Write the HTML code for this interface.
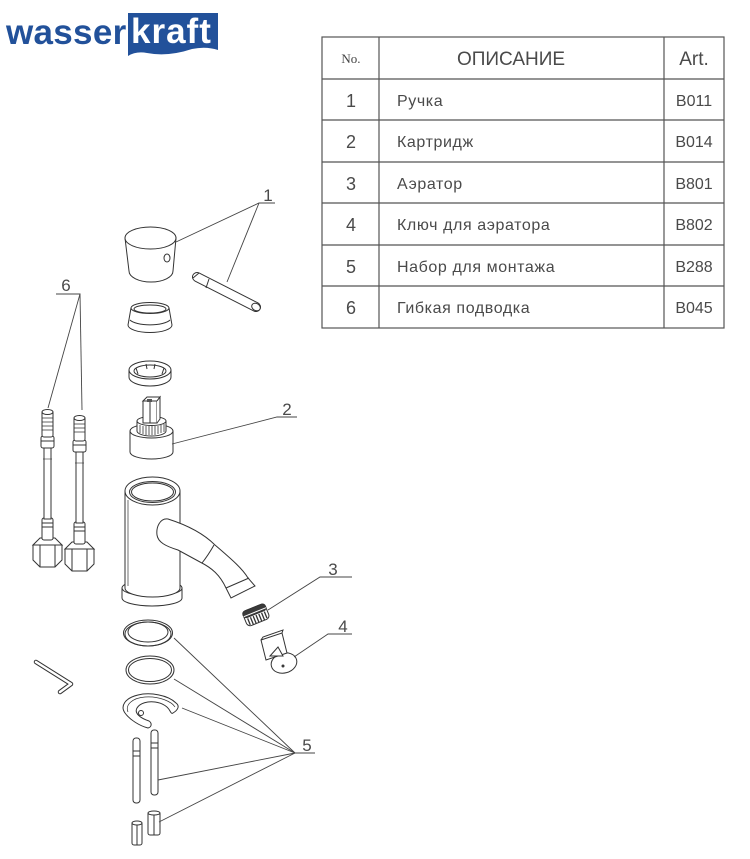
<!DOCTYPE html>
<html>
<head>
<meta charset="utf-8">
<style>
html,body{margin:0;padding:0;background:#fff;}
body{width:750px;height:859px;overflow:hidden;}
svg{display:block;}
.t{font-family:"Liberation Sans","DejaVu Sans",sans-serif;fill:#4a4a4a;}
</style>
</head>
<body>
<svg width="750" height="859" viewBox="0 0 750 859" xmlns="http://www.w3.org/2000/svg">
<!-- Logo -->
<text x="6" y="44" font-family="Liberation Sans, sans-serif" font-weight="bold" font-size="35" fill="#22519a" letter-spacing="0.3">wasser</text>
<path d="M128 13 H218 V50 Q206 46 192 49 Q168 57 147 53 Q136 51 128 56 Z" fill="#22519a"/>
<text x="131" y="43" font-family="Liberation Sans, sans-serif" font-weight="bold" font-size="35" fill="#fff" letter-spacing="1">kraft</text>

<!-- Table -->
<g stroke="#555" stroke-width="1.2" fill="none">
<rect x="322" y="37" width="402" height="291"/>
<line x1="379" y1="37" x2="379" y2="328"/>
<line x1="664" y1="37" x2="664" y2="328"/>
<line x1="322" y1="79" x2="724" y2="79"/>
<line x1="322" y1="120" x2="724" y2="120"/>
<line x1="322" y1="162" x2="724" y2="162"/>
<line x1="322" y1="203" x2="724" y2="203"/>
<line x1="322" y1="245" x2="724" y2="245"/>
<line x1="322" y1="286" x2="724" y2="286"/>
</g>
<text x="351" y="63" text-anchor="middle" font-family="Liberation Serif, serif" font-size="13" fill="#444">No.</text>
<text class="t" x="511" y="65" text-anchor="middle" font-size="19">ОПИСАНИЕ</text>
<text class="t" x="694" y="65" text-anchor="middle" font-size="19">Art.</text>

<g class="t" font-size="18" text-anchor="middle">
<text x="351" y="107">1</text>
<text x="351" y="148">2</text>
<text x="351" y="190">3</text>
<text x="351" y="231">4</text>
<text x="351" y="273">5</text>
<text x="351" y="314">6</text>
</g>
<g class="t" font-size="16" letter-spacing="0.6">
<text x="397" y="106">Ручка</text>
<text x="397" y="147">Картридж</text>
<text x="397" y="189">Аэратор</text>
<text x="397" y="230">Ключ для аэратора</text>
<text x="397" y="272">Набор для монтажа</text>
<text x="397" y="313">Гибкая подводка</text>
</g>
<g class="t" font-size="16" text-anchor="middle">
<text x="694" y="106">B011</text>
<text x="694" y="147">B014</text>
<text x="694" y="189">B801</text>
<text x="694" y="230">B802</text>
<text x="694" y="272">B288</text>
<text x="694" y="313">B045</text>
</g>

<!-- Drawing parts -->
<g stroke="#333" stroke-width="1" fill="#fff">
<!-- Handle cap -->
<path d="M125 238 L129 271 A22 11 0 0 0 173 271 L176 238 Z"/>
<ellipse cx="150.5" cy="238" rx="25.5" ry="11"/>
<ellipse cx="167" cy="258" rx="3" ry="4"/>
<!-- Rod -->
<line x1="197" y1="277" x2="256" y2="307" stroke="#333" stroke-width="10" stroke-linecap="round"/>
<line x1="197" y1="277" x2="256" y2="307" stroke="#fff" stroke-width="8" stroke-linecap="round"/>
<line x1="209" y1="279" x2="206" y2="288"/>
<line x1="193" y1="278" x2="199" y2="273"/>
<ellipse cx="256" cy="307" rx="3.5" ry="4.5" transform="rotate(-60 256 307)"/>
<!-- Collar -->
<path d="M131 308 L128 325 A22 7.5 0 0 0 172 325 L169 308 Z"/>
<ellipse cx="150" cy="308" rx="19" ry="5.5"/>
<ellipse cx="150" cy="309" rx="16" ry="4"/>
<path d="M130 320 A21 7 0 0 0 170 320" fill="none"/>
<!-- Nut ring -->
<path d="M129 370 L129 377 A21 9 0 0 0 171 377 L171 370 Z"/>
<ellipse cx="150" cy="370" rx="21" ry="9"/>
<ellipse cx="150" cy="371" rx="16" ry="6"/>
<path d="M136 368 L138 374 M164 368 L162 374 M146 364 L147 369 M155 364 L154 369" fill="none"/>
<!-- Cartridge -->
<path d="M130 431 L130 452 A21.5 7 0 0 0 173 452 L173 431 Z"/>
<ellipse cx="151.5" cy="431" rx="21.5" ry="7"/>
<path d="M137 421 L137 431 A14.5 5 0 0 0 166 431 L166 421 Z"/>
<ellipse cx="151.5" cy="421" rx="14.5" ry="4.5"/>
<path d="M140 425 V433 M143 426 V434 M146 426 V435 M149 426 V435 M152 426 V435 M155 426 V435 M158 426 V434 M161 425 V433 M164 424 V432" fill="none" stroke-width="0.8"/>
<path d="M143 401 L143 423 L157 423 L157 401 Z"/>
<path d="M143 401 L147 397 L160 397 L157 401 Z"/>
<path d="M157 401 L160 397 L160 419 L157 423" />
<line x1="150" y1="401" x2="150" y2="423"/>
<rect x="147" y="399" width="5" height="3" fill="#555" stroke="none"/>
<!-- Faucet body -->
<path d="M122 588 L122 598 A30 8 0 0 0 182 598 L182 588 Z"/>
<ellipse cx="152" cy="588" rx="30" ry="8"/>
<path d="M125 491 L125 588 A27.5 9 0 0 0 180 588 L180 491 Z"/>
<ellipse cx="152.5" cy="491" rx="27.5" ry="14"/>
<ellipse cx="152.5" cy="492" rx="23" ry="10.5"/>
<ellipse cx="152.5" cy="492" rx="21" ry="9" fill="none"/>
<line x1="128" y1="500" x2="128" y2="586" stroke-width="0.7"/>
<!-- Spout -->
<path d="M168 519 C190 526 205 535 215 545 C230 558 242 568 248 578 L255 586 L231 598 L226 588 C220 575 212 568 200 562 L178 550 C165 546 158 542 157 535 C156 527 160 518 168 519 Z"/>
<path d="M214 545 C210 552 206 558 202 563" fill="none"/>
<line x1="226" y1="588" x2="249" y2="578"/>
<!-- Aerator -->
<g transform="translate(256 615) rotate(-22)">
<rect x="-12" y="-8" width="24" height="16" rx="4"/>
<rect x="-12" y="-8" width="24" height="7" rx="3" fill="#3a3a3a"/>
<path d="M-9 0 V7 M-6 0 V8 M-3 0 V8 M0 0 V8 M3 0 V8 M6 0 V8 M9 0 V7" stroke-width="1.3"/>
<line x1="-12" y1="-3" x2="12" y2="-3" stroke="#fff"/>
</g>
<!-- Key -->
<ellipse cx="284" cy="663" rx="13" ry="10" transform="rotate(-15 284 663)"/>
<path d="M261 640 L282 633 L287 653 L266 660 Z"/>
<path d="M261 640 L263 637 L283 630 L282 633" fill="none"/>
<path d="M270 656 L278 647 L283 656 Z"/>
<circle cx="283" cy="666" r="1" fill="#555"/>
<!-- Rings -->
<ellipse cx="148" cy="633" rx="24.5" ry="13"/>
<ellipse cx="148" cy="632" rx="20" ry="10"/>
<ellipse cx="148" cy="634" rx="23" ry="12" fill="none"/>
<ellipse cx="150" cy="670" rx="24" ry="14"/>
<ellipse cx="150" cy="670" rx="21.5" ry="11.5"/>
<!-- Clip -->
<path d="M173 713 C178 710 180 706 176 703 C168 695 150 692 138 695 C125 698 120 706 125 713 C130 720 140 726 148 728 C152 727 152 723 149 721 C140 718 134 713 137 708 C140 703 148 701 155 702 C163 703 168 707 170 711 C171 713 172 714 173 713 Z"/>
<path d="M128 712 C125 705 132 698 145 697 C160 696 172 702 175 707" fill="none" stroke-width="0.7"/>
<circle cx="141" cy="713" r="2.5"/>
<!-- Allen key -->
<polyline points="36,662 71,684 60,692" fill="none" stroke="#333" stroke-width="4.5" stroke-linejoin="round" stroke-linecap="round"/>
<polyline points="36,662 71,684 60,692" fill="none" stroke="#fff" stroke-width="2.5" stroke-linejoin="round" stroke-linecap="round"/>
<!-- Rods -->
<rect x="133" y="738" width="7" height="65" rx="3"/>
<line x1="133" y1="751" x2="140" y2="751"/>
<line x1="133" y1="756" x2="140" y2="756"/>
<rect x="151" y="730" width="7" height="65" rx="3"/>
<line x1="151" y1="743" x2="158" y2="743"/>
<line x1="151" y1="748" x2="158" y2="748"/>
<!-- Nuts -->
<rect x="132" y="822" width="10" height="23" rx="2"/>
<ellipse cx="137" cy="823" rx="5" ry="2"/>
<line x1="137" y1="825" x2="137" y2="845"/>
<rect x="148" y="812" width="12" height="23" rx="2"/>
<ellipse cx="154" cy="813" rx="6" ry="2"/>
<line x1="154" y1="815" x2="154" y2="835"/>
</g>

<!-- Hoses -->
<g stroke="#333" stroke-width="1" fill="#fff">
<g>
<path d="M33 545 L33 560 L40 567 L55 567 L62 560 L62 545 Z"/>
<path d="M33 545 L40 538 L55 538 L62 545 Z"/>
<line x1="40" y1="545" x2="40" y2="567"/>
<line x1="55" y1="545" x2="55" y2="567"/>
<rect x="42" y="518" width="11" height="22" rx="2"/>
<line x1="42" y1="523" x2="53" y2="523"/>
<line x1="42" y1="527" x2="53" y2="527"/>
<rect x="44" y="447" width="7" height="72"/>
<rect x="41" y="436" width="13" height="12" rx="2"/>
<line x1="41" y1="441" x2="54" y2="441"/>
<rect x="42" y="411" width="11" height="26" rx="2"/>
<ellipse cx="47.5" cy="412" rx="5.5" ry="2.5"/>
<path d="M42 418 H53 M42 422 H53 M42 426 H53 M42 430 H53" stroke-width="0.7"/>
<line x1="43" y1="459" x2="52" y2="459" stroke-width="0.6"/>
</g>
<g transform="translate(32 4)">
<path d="M33 545 L33 560 L40 567 L55 567 L62 560 L62 545 Z"/>
<path d="M33 545 L40 538 L55 538 L62 545 Z"/>
<line x1="40" y1="545" x2="40" y2="567"/>
<line x1="55" y1="545" x2="55" y2="567"/>
<rect x="42" y="518" width="11" height="22" rx="2"/>
<line x1="42" y1="523" x2="53" y2="523"/>
<line x1="42" y1="527" x2="53" y2="527"/>
<rect x="44" y="447" width="7" height="72"/>
<rect x="41" y="436" width="13" height="12" rx="2"/>
<line x1="41" y1="441" x2="54" y2="441"/>
<rect x="42" y="413" width="11" height="24" rx="2"/>
<ellipse cx="47.5" cy="414" rx="5.5" ry="2.5"/>
<path d="M42 420 H53 M42 424 H53 M42 428 H53" stroke-width="0.7"/>
<line x1="43" y1="459" x2="52" y2="459" stroke-width="0.6"/>
</g>
</g>

<!-- Leaders -->
<g stroke="#444" stroke-width="0.9" fill="none">
<polyline points="176,242 259,203 275,203"/>
<line x1="259" y1="203" x2="227" y2="282"/>
<polyline points="172,444 277,417 297,417"/>
<polyline points="268,610 320,577 352,577"/>
<polyline points="294,657 328,634 352,634"/>
<polyline points="48,408 80,294 56,294"/>
<line x1="80" y1="294" x2="82" y2="410"/>
<polyline points="174,638 295,753 315,753"/>
<line x1="295" y1="753" x2="174" y2="679"/>
<line x1="295" y1="753" x2="182" y2="708"/>
<line x1="295" y1="753" x2="158" y2="780"/>
<line x1="295" y1="753" x2="159" y2="822"/>
</g>
<g class="t" font-size="17" text-anchor="middle">
<text x="268" y="201">1</text>
<text x="287" y="415">2</text>
<text x="333" y="575">3</text>
<text x="343" y="632">4</text>
<text x="307" y="751">5</text>
<text x="66" y="291">6</text>
</g>
</svg>
</body>
</html>
